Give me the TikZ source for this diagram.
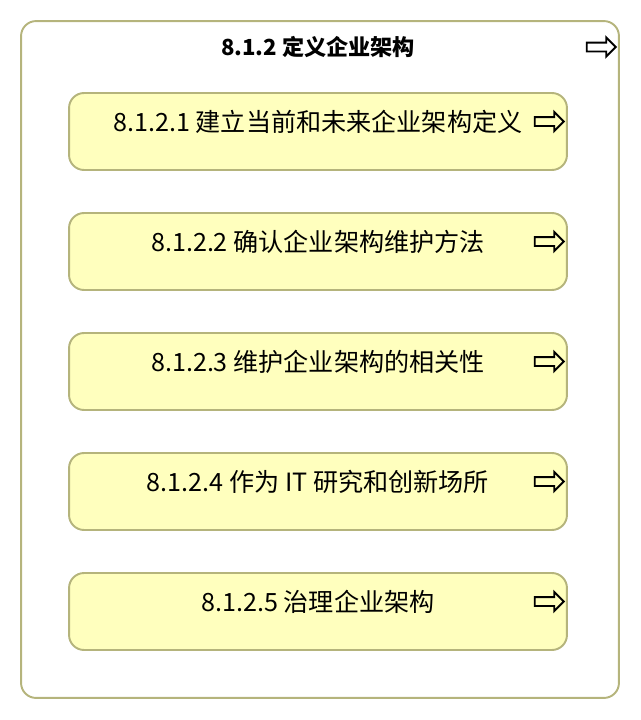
\documentclass[tikz,border=0pt]{standalone}
\usepackage{fontspec}
\setmainfont{Noto Sans CJK SC}
\usetikzlibrary{shapes.arrows}
\definecolor{boxline}{HTML}{B5B47C}
\definecolor{boxfill}{HTML}{FFFFBE}

\begin{document}
\begin{tikzpicture}
	  [x=0.02cm,y=-0.02cm,
	   frame/.style={draw=boxline,line width=1.1pt,rounded corners=0.3cm},
	   task/.style={frame,fill=boxfill,minimum width=9.96cm,minimum height=1.54cm},
	   tasktext/.style={font=\fontsize{14.3}{17}\selectfont,inner sep=0pt},
	   goarrow/.style={single arrow,draw=black,line width=1.1pt,inner sep=0.07cm,
	     minimum height=0.58cm,single arrow head extend=0.1cm}]
	\useasboundingbox (0,0) rectangle (640,720);
	\node[frame,minimum width=11.96cm,minimum height=13.54cm] (outer) at (320,359.5) {};
	\node[font=\bfseries\fontsize{12.6}{15}\selectfont,inner sep=0pt] (title) at (318,47) {8.1.2 定义企业架构};
	\node[goarrow] (title-a) at (599,47) {};

	\foreach \i/\y/\t in {1/131.5/{8.1.2.1 建立当前和未来企业架构定义},
	                      2/251.5/{8.1.2.2 确认企业架构维护方法},
	                      3/371.5/{8.1.2.3 维护企业架构的相关性},
	                      4/491.5/{8.1.2.4 作为 IT 研究和创新场所},
	                      5/611.5/{8.1.2.5 治理企业架构}}
	  {
	  \node[task] (box\i) at (318,\y) {};
	  \node[tasktext] (box\i-t) at (318,\y-10) {\t};
	  \node[goarrow] (box\i-a) at (547,\y-10) {};
	  }
	\end{tikzpicture}
\end{document}
